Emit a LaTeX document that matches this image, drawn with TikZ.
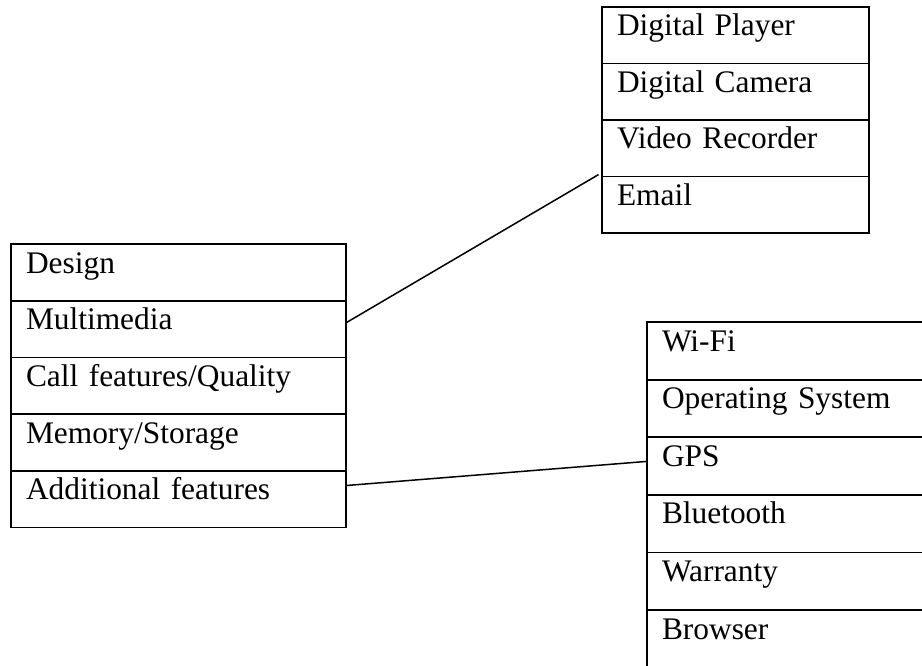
\documentclass[tikz,border=0pt]{standalone}
\usepackage{fontspec}
\setmainfont{Liberation Serif}
\usetikzlibrary{calc}
\begin{document}
\begin{tikzpicture}[x=1pt,y=-1pt,
  cell/.style={draw, line width=1.8pt, outer sep=0pt, anchor=north west,
    inner xsep=15pt, inner ysep=0pt, align=left,
    font=\fontsize{31.4}{36}\selectfont, text height=29pt},
  leftcell/.style={cell, text width=305pt, text depth=27.7pt},
  topcell/.style={cell, text width=237pt, text depth=27.5pt},
  rightcell/.style={cell, text width=260pt, text depth=28.6pt},
  link/.style={line width=1.5pt}]
\useasboundingbox (0,0) rectangle (922,666);
\fill[white] (0,0) rectangle (922,666);
\clip (0,0) rectangle (922,666);

% main feature list
\node[leftcell] (design) at (11,244) {Design};
\node[leftcell] (mm) at (design.south west) {Multimedia};
\node[leftcell] (call) at (mm.south west) {Call features/Quality};
\node[leftcell] (mem) at (call.south west) {Memory/Storage};
\node[leftcell] (af) at (mem.south west) {Additional features};

% multimedia details
\node[topcell] (dp) at (602,7) {Digital Player};
\node[topcell] (dc) at (dp.south west) {Digital Camera};
\node[topcell] (vr) at (dc.south west) {Video Recorder};
\node[topcell] (em) at (vr.south west) {Email};

% additional features details
\node[rightcell] (wifi) at (647,322) {Wi-Fi};
\node[rightcell] (os) at (wifi.south west) {Operating System};
\node[rightcell] (gps) at (os.south west) {GPS};
\node[rightcell] (bt) at (gps.south west) {Bluetooth};
\node[rightcell] (war) at (bt.south west) {Warranty};
\node[rightcell] (br) at (war.south west) {Browser};

% connectors
\draw[link, shorten >=4pt] ($(mm.north east)!0.39!(mm.south east)$) -- ($(vr.north west)!0.93!(vr.south west)$);
\draw[link] ($(af.north east)!0.26!(af.south east)$) -- ($(gps.north west)!0.42!(gps.south west)$);
\end{tikzpicture}
\end{document}
